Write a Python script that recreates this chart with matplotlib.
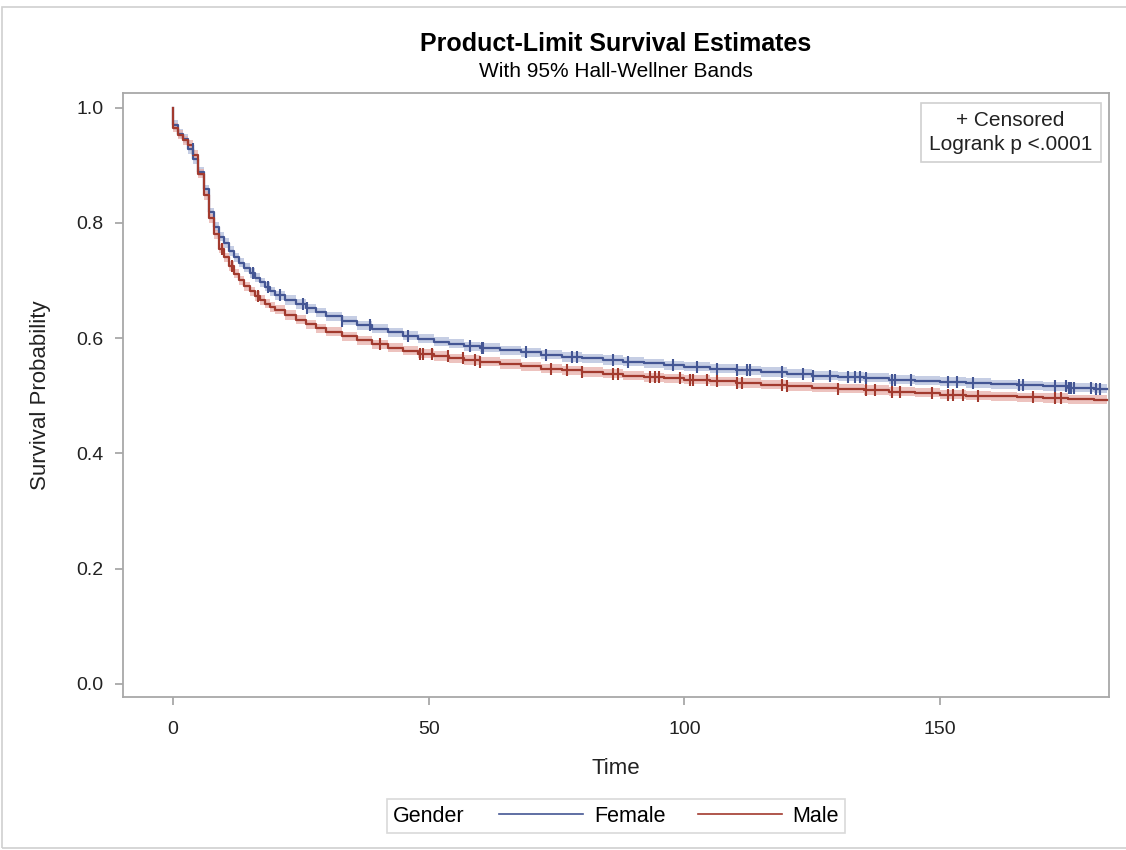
import numpy as np
import matplotlib
matplotlib.use('Agg')
from matplotlib import pyplot as plt
from matplotlib.lines import Line2D
from matplotlib.patches import Rectangle
from matplotlib.offsetbox import HPacker

plt.rcParams['font.family'] = ['Liberation Sans', 'DejaVu Sans']

# Kaplan-Meier estimates (step values start at each time)
times = [0, 0, 1, 2, 3, 4, 5, 6, 7, 8, 9, 10, 11, 12, 13, 14, 15, 16, 17, 18, 19, 20,
         22, 24, 26, 28, 30, 33, 36, 39, 42, 45, 48, 51, 54, 57, 60,
         64, 68, 72, 76, 80, 84, 88, 92, 96, 100,
         105, 110, 115, 120, 125, 130, 135, 140, 145, 150, 155, 160, 165, 170, 175, 180]
female_surv = [1.0, 0.970, 0.955, 0.946, 0.928, 0.910, 0.889, 0.858, 0.818, 0.793, 0.776,
               0.765, 0.751, 0.740, 0.731, 0.722, 0.713, 0.705, 0.697, 0.689, 0.681, 0.674,
               0.666, 0.659, 0.652, 0.645, 0.638, 0.630, 0.622, 0.616, 0.610, 0.604, 0.599,
               0.594, 0.590, 0.586, 0.583, 0.579, 0.575, 0.571, 0.567, 0.565, 0.562, 0.559,
               0.556, 0.553, 0.550, 0.547, 0.544, 0.541, 0.538, 0.535, 0.533, 0.531, 0.528,
               0.526, 0.524, 0.522, 0.520, 0.518, 0.516, 0.514, 0.512]
male_surv = [1.0, 0.965, 0.953, 0.943, 0.935, 0.918, 0.885, 0.848, 0.808, 0.780, 0.755,
             0.740, 0.725, 0.712, 0.700, 0.690, 0.681, 0.673, 0.666, 0.660, 0.654, 0.649,
             0.640, 0.632, 0.624, 0.617, 0.611, 0.603, 0.596, 0.589, 0.583, 0.578, 0.573,
             0.569, 0.565, 0.562, 0.559, 0.555, 0.551, 0.547, 0.544, 0.541, 0.538, 0.535,
             0.532, 0.530, 0.528, 0.525, 0.522, 0.519, 0.516, 0.514, 0.512, 0.510, 0.507,
             0.505, 0.502, 0.500, 0.499, 0.497, 0.496, 0.494, 0.493]
end_time = 182.5
band_halfwidth = 0.008

female_censored = [3.9, 15.6, 18.6, 20.9, 25.4, 26.2, 33, 38.5, 46, 58, 60.4, 60.6, 69, 73,
                   78, 79, 86, 89, 97.8, 102.5, 106.4, 110.3, 112.3, 112.9, 119.1, 123.2,
                   125.2, 128.5, 132, 133.4, 134.4, 135.4, 140.6, 141.2, 144.2, 151.6, 153.3,
                   156.3, 165.3, 166.1, 172.5, 174.5, 175.1, 175.5, 176.1, 179.4, 180.4, 181.3]
male_censored = [9.6, 11.5, 16.6, 40.5, 48.3, 48.9, 50.7, 53.8, 56.7, 59, 60, 74, 77, 80,
                 86, 87, 93.3, 94.3, 95, 99.2, 101.1, 101.7, 104.4, 106.4, 110.3, 111.3,
                 119.1, 120.1, 130, 135.4, 137.3, 140.6, 142.2, 148.4, 151.6, 152.4, 154.4,
                 157.3, 168.2, 172.5, 173.5]

groups = ['Female', 'Male']
line_colors = {'Female': '#445694', 'Male': '#A23A2E'}
band_colors = {'Female': '#B4BEDC', 'Male': '#E8AFAA'}


def main():
    fig = plt.figure(figsize=(11.26, 8.5), dpi=100)
    ax = fig.add_axes([0.109, 0.18, 0.876, 0.711])

    data = {'Female': (female_surv, female_censored), 'Male': (male_surv, male_censored)}
    t = np.array(times + [end_time])
    for g in groups:
        surv, cens = data[g]
        s = np.array(surv + [surv[-1]])
        ax.fill_between(t, s - band_halfwidth, s + band_halfwidth, step='post',
                        color=band_colors[g], alpha=0.75, lw=0, zorder=1)
    for g in groups:
        surv, cens = data[g]
        s = np.array(surv + [surv[-1]])
        ax.step(t, s, where='post', color=line_colors[g], lw=1.6, zorder=3)
        idx = np.searchsorted(t, cens, side='right') - 1
        ax.plot(cens, s[idx], ls='none', marker='|', ms=9, mew=1.5,
                color=line_colors[g], zorder=4)

    ax.set_xlim(-9.8, 183)
    ax.set_ylim(-0.023, 1.026)
    ax.set_xticks([0, 50, 100, 150])
    ax.set_yticks([0.0, 0.2, 0.4, 0.6, 0.8, 1.0])
    ax.set_yticklabels(['0.0', '0.2', '0.4', '0.6', '0.8', '1.0'])
    for sp in ax.spines.values():
        sp.set_color('#a8a8a8')
        sp.set_linewidth(1.3)
    ax.tick_params(length=6, width=1.3, color='#a8a8a8', labelsize=14, pad=8,
                   labelcolor='#222222')
    ax.tick_params(axis='x', pad=11)
    ax.set_xlabel('Time', fontsize=16, labelpad=15, color='#222222')
    ax.set_ylabel('Survival Probability', fontsize=16, labelpad=18, color='#222222')

    ax.text(0.983, 0.969, '+ Censored\nLogrank p <.0001', transform=ax.transAxes,
            ha='right', va='top', multialignment='center', fontsize=15,
            linespacing=1.3, color='#222222',
            bbox=dict(boxstyle='square,pad=0.4', fc='white', ec='#d0d0d0', lw=1.2))

    fig.text(0.547, 0.94, 'Product-Limit Survival Estimates', ha='center',
             fontsize=18, fontweight='bold')
    fig.text(0.547, 0.909, 'With 95% Hall-Wellner Bands', ha='center', fontsize=15)

    handles = [Line2D([], [], color=line_colors[g], lw=1.2) for g in groups]
    leg = fig.legend(handles, groups, loc='center', bbox_to_anchor=(0.547, 0.04),
                     ncol=2, frameon=True, fancybox=False, edgecolor='#d0d0d0',
                     fontsize=15.5, title='Gender', title_fontsize=15.5,
                     handlelength=3.9, handletextpad=0.5, columnspacing=1.5,
                     borderpad=0.3)
    leg.get_frame().set_linewidth(1.2)
    fs = leg._fontsize
    newbox = HPacker(pad=leg.borderpad * fs, sep=1.6 * fs, align='center',
                     children=[leg._legend_title_box, leg._legend_handle_box])
    newbox.set_figure(fig)
    newbox.set_offset(leg._findoffset)
    leg._legend_box = newbox

    fig.patches.append(Rectangle((0.002, 0.002), 1.2, 0.990, transform=fig.transFigure,
                                 fill=False, ec='#d0d0d0', lw=1.2))

    fig.savefig('out.png', dpi=100)


if __name__ == '__main__':
    main()
